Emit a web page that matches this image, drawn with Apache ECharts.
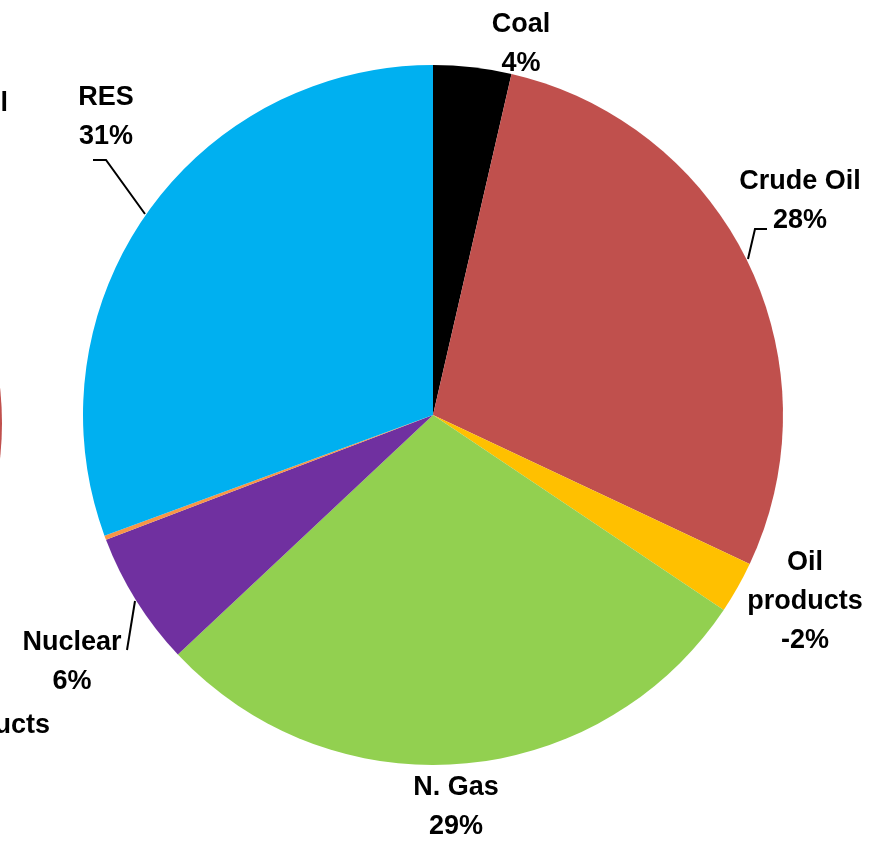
<!DOCTYPE html>
<html>
<head>
<meta charset="utf-8">
<script src="https://cdn.jsdelivr.net/npm/echarts@6/dist/echarts.min.js"></script>
<style>
html,body{margin:0;padding:0;background:#fff;}
#chart{width:882px;height:841px;}
</style>
</head>
<body>
<div id="chart"></div>
<script>
// ---- data ----
var categories = ['Coal', 'Crude Oil', 'Oil products', 'N. Gas', 'Nuclear', 'Other', 'RES'];
var values = [3.6, 28.4, 2.4, 28.6, 6.2, 0.2, 30.6];
var percentLabels = ['4%', '28%', '-2%', '29%', '6%', '', '31%'];
var labelNames = ['Coal', 'Crude Oil', 'Oil\nproducts', 'N. Gas', 'Nuclear', '', 'RES'];
var colors = ['#000000', '#C0504D', '#FFC000', '#92D050', '#7030A0', '#F79646', '#00B0F0'];
// neighbouring (cropped) chart on the left
var leftCategories = ['Crude Oil'];
var leftValues = [1];
var leftColors = ['#C0504D'];

// ---- layout (positions kept separate from data) ----
var labelPos = {
  0: {x: 521, y: 44},
  1: {x: 800, y: 201},
  2: {x: 805, y: 602},
  3: {x: 456, y: 807},
  4: {x: 72, y: 662},
  6: {x: 106, y: 117}
};
var linePts = {
  1: [[748, 259], [755, 229], [767, 229]],
  4: [[135, 601], [127, 650]],
  6: [[145, 214], [106, 160], [93, 160]]
};
var FONT = 'Liberation Sans';

var chart = echarts.init(document.getElementById('chart'), null, {renderer: 'canvas'});

var mainData = categories.map(function (c, i) {
  return {
    name: c,
    value: values[i],
    itemStyle: {color: colors[i]},
    label: {show: labelNames[i] !== ''},
    labelLine: {show: !!linePts[i]}
  };
});

var leftData = leftCategories.map(function (c, i) {
  return {name: c, value: leftValues[i], itemStyle: {color: leftColors[i]}};
});

chart.setOption({
  backgroundColor: '#ffffff',
  animation: false,
  series: [
    {
      type: 'pie',
      silent: true,
      center: [-318, 423],
      radius: 320,
      label: {show: false},
      labelLine: {show: false},
      data: leftData
    },
    {
      type: 'pie',
      silent: true,
      center: [433, 415],
      radius: 350,
      startAngle: 90,
      clockwise: true,
      avoidLabelOverlap: false,
      itemStyle: {borderWidth: 0},
      label: {
        position: 'outside',
        color: '#000',
        fontFamily: FONT,
        fontWeight: 'bold',
        fontSize: 27,
        lineHeight: 39,
        align: 'center',
        formatter: function (p) {
          return labelNames[p.dataIndex] + '\n' + percentLabels[p.dataIndex];
        }
      },
      labelLine: {
        show: true,
        lineStyle: {color: '#000', width: 2}
      },
      labelLayout: function (params) {
        var i = params.dataIndex;
        var pos = labelPos[i];
        if (!pos) return {};
        var o = {x: pos.x, y: pos.y, align: 'center', verticalAlign: 'middle'};
        if (linePts[i]) o.labelLinePoints = linePts[i];
        return o;
      },
      data: mainData
    }
  ],
  graphic: [
    {
      type: 'text',
      silent: true,
      style: {
        text: 'Crude Oil', x: 8, y: 104, align: 'right', verticalAlign: 'middle',
        fontFamily: FONT, fontWeight: 'bold', fontSize: 27, fill: '#000'
      }
    },
    {
      type: 'text',
      silent: true,
      style: {
        text: 'products', x: 50, y: 726, align: 'right', verticalAlign: 'middle',
        fontFamily: FONT, fontWeight: 'bold', fontSize: 27, fill: '#000'
      }
    }
  ]
});
</script>
</body>
</html>
